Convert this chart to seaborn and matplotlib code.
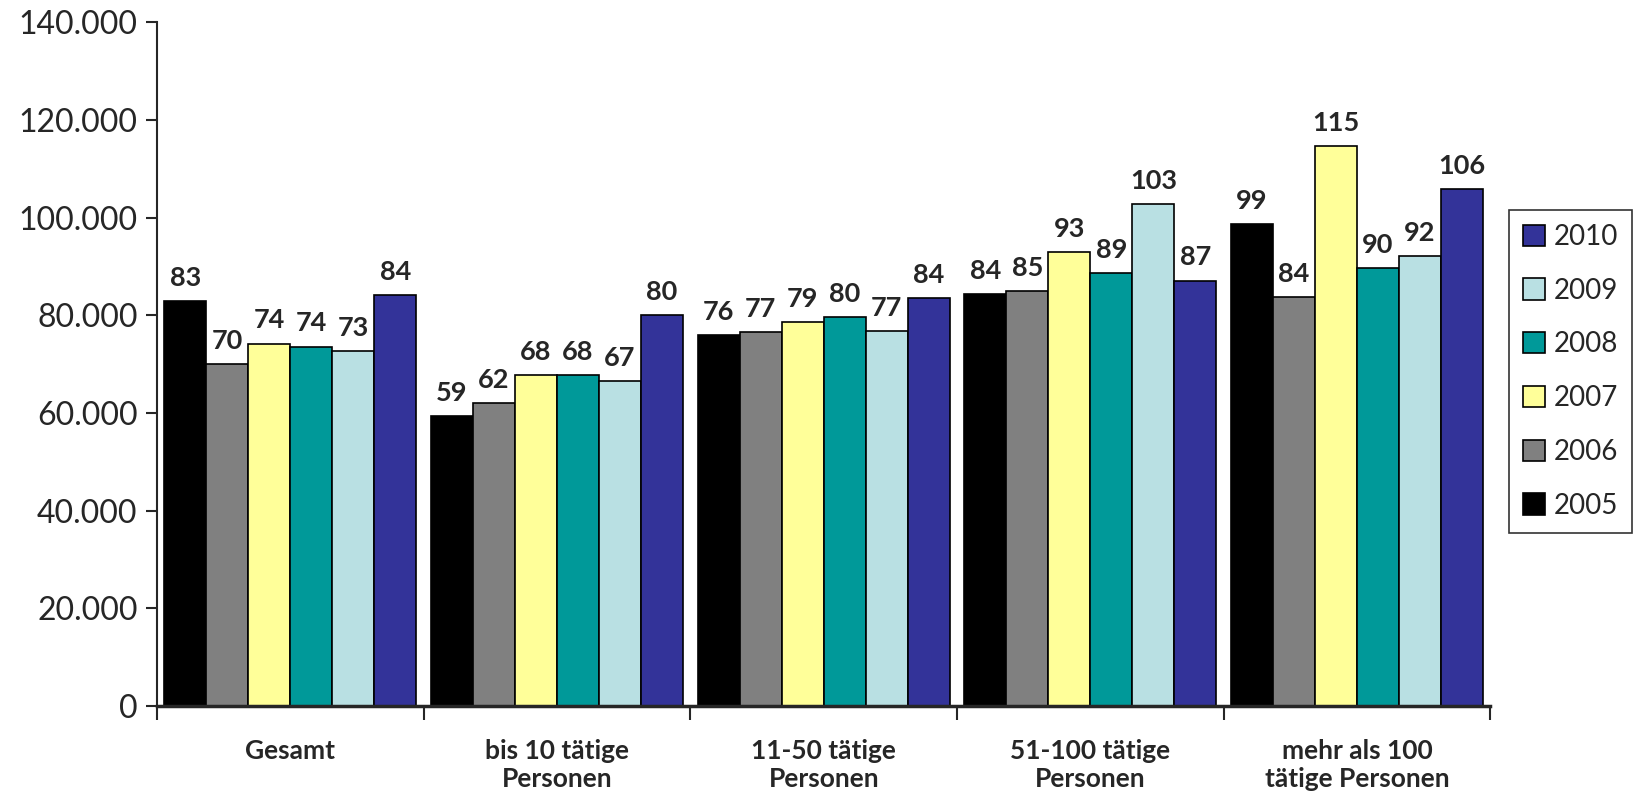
import matplotlib
matplotlib.use("Agg")
import matplotlib.pyplot as plt
from matplotlib.ticker import FuncFormatter, FixedLocator
import seaborn as sns
import pandas as pd

# Data
categories = ["Gesamt", "bis 10 tätige\nPersonen", "11-50 tätige\nPersonen",
              "51-100 tätige\nPersonen", "mehr als 100\ntätige Personen"]
years = ["2005", "2006", "2007", "2008", "2009", "2010"]
v2005 = [82900, 59300, 75900, 84300, 98600]
v2006 = [70000, 62000, 76600, 85000, 83800]
v2007 = [74200, 67800, 78600, 92900, 114600]
v2008 = [73600, 67800, 79600, 88700, 89600]
v2009 = [72600, 66600, 76800, 102700, 92100]
v2010 = [84200, 80000, 83600, 87100, 105800]
colors = ["#000000", "#808080", "#FFFF99", "#009999", "#B9E0E3", "#333399"]

series = [v2005, v2006, v2007, v2008, v2009, v2010]
df = pd.DataFrame([(c, y, s[i]) for y, s in zip(years, series) for i, c in enumerate(categories)],
                  columns=["cat", "year", "value"])

sns.set_style("white")
plt.rcParams["font.family"] = ["Lato", "DejaVu Sans"]

fig = plt.figure(figsize=(16.36, 7.95), dpi=100)
ax = fig.add_axes([0.096, 0.112, 0.815, 0.86])
sns.barplot(data=df, x="cat", y="value", hue="year", order=categories, hue_order=years,
            palette=colors, width=0.945, edgecolor="black", linewidth=1.2,
            saturation=1, ax=ax, legend=True)

# data labels in thousands
for cont in ax.containers:
    ax.bar_label(cont, labels=[f"{b.get_height()/1000:.0f}" for b in cont],
                 padding=8, fontsize=19.5, fontweight="bold")

ax.set_ylim(0, 140000)
ax.set_xlim(-0.5, 4.5)
ax.set_yticks(range(0, 140001, 20000))
ax.yaxis.set_major_formatter(FuncFormatter(lambda v, p: f"{int(v):,}".replace(",", ".")))
ax.tick_params(axis="y", labelsize=23, length=8, width=1.5, direction="out", left=True, pad=6)
ax.tick_params(axis="x", which="major", length=0, labelsize=19, pad=24)
ax.xaxis.set_minor_locator(FixedLocator([-0.5, 0.5, 1.5, 2.5, 3.5, 4.5]))
ax.tick_params(axis="x", which="minor", length=10, width=1.5, bottom=True, direction="out")
for lab in ax.get_xticklabels():
    lab.set_fontweight("bold")
ax.set_xlabel("")
ax.set_ylabel("")
sns.despine(ax=ax)
ax.spines["left"].set_linewidth(1.5)
ax.spines["bottom"].set_linewidth(2.5)

# legend, newest year on top
handles, labels = ax.get_legend_handles_labels()
leg = ax.legend(handles[::-1], labels[::-1], loc="center left",
                bbox_to_anchor=(0.9225, 0.533), bbox_transform=fig.transFigure,
                fontsize=20, frameon=True, fancybox=False, edgecolor="black",
                handlelength=0.8, handleheight=0.8, handletextpad=0.3,
                labelspacing=1.0, borderpad=0.5, borderaxespad=0)
leg.get_frame().set_linewidth(1.2)

fig.savefig("out.png", dpi=100)
